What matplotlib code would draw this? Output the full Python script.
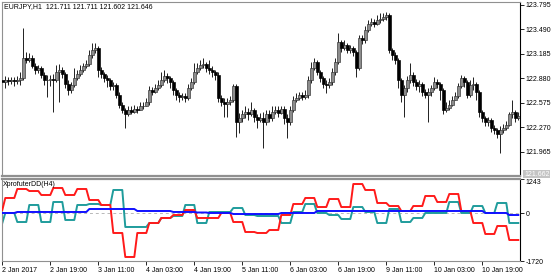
import numpy as np
import matplotlib
matplotlib.use('Agg')
import matplotlib.pyplot as plt

plt.rcParams['font.family'] = ['Liberation Sans', 'DejaVu Sans']
plt.rcParams['font.size'] = 5

# EURJPY H1 candles, 2 Jan 2017 00:00 onwards (open of each bar = previous close)
first_open = 122.86
closes = [122.84, 122.86, 122.85, 122.86, 122.85, 122.86, 122.89, 123.13, 123.11, 123.13,
          123.04, 122.99, 123.01, 122.92, 122.86, 122.86, 122.87, 122.86, 122.96, 122.99,
          122.94, 122.81, 122.74, 122.80, 122.89, 122.94, 122.99, 123.04, 123.06, 123.17,
          123.23, 123.26, 122.99, 122.94, 122.89, 122.86, 122.79, 122.80, 122.67, 122.55,
          122.49, 122.44, 122.49, 122.46, 122.50, 122.49, 122.53, 122.54, 122.58, 122.74,
          122.71, 122.76, 122.80, 122.86, 122.91, 122.89, 122.84, 122.74, 122.67, 122.65,
          122.66, 122.64, 122.76, 122.84, 122.96, 123.01, 123.05, 123.06, 123.01, 122.99,
          122.96, 122.92, 122.64, 122.58, 122.56, 122.59, 122.61, 122.79, 122.34, 122.39,
          122.43, 122.46, 122.44, 122.49, 122.40, 122.36, 122.39, 122.34, 122.43, 122.39,
          122.46, 122.49, 122.45, 122.50, 122.39, 122.34, 122.49, 122.61, 122.64, 122.67,
          122.65, 122.67, 122.86, 123.01, 123.08, 122.96, 122.89, 122.81, 122.80, 122.84,
          122.96, 123.08, 123.33, 123.26, 123.30, 123.23, 123.26, 123.21, 123.01, 123.38,
          123.36, 123.48, 123.56, 123.58, 123.56, 123.61, 123.62, 123.65, 123.67, 123.23,
          123.17, 123.11, 122.86, 122.67, 122.76, 122.86, 122.92, 122.84, 122.79, 122.81,
          122.71, 122.67, 122.71, 122.76, 122.84, 122.81, 122.74, 122.49, 122.51, 122.55,
          122.61, 122.66, 122.79, 122.89, 122.84, 122.67, 122.80, 122.81, 122.71, 122.46,
          122.39, 122.34, 122.36, 122.26, 122.24, 122.19, 122.24, 122.26, 122.30, 122.43,
          122.46, 122.39, 122.41]
highs = [123.02, 122.91, 122.90, 122.90, 122.90, 122.91, 122.96, 123.51, 123.21, 123.20,
         123.17, 123.07, 123.05, 123.04, 122.96, 122.92, 122.92, 122.94, 123.05, 123.06,
         123.02, 122.96, 122.86, 122.84, 123.01, 122.99, 123.05, 123.07, 123.11, 123.23,
         123.32, 123.32, 123.28, 123.02, 122.96, 122.92, 122.89, 122.84, 122.82, 122.71,
         122.58, 122.51, 122.53, 122.54, 122.55, 122.54, 122.58, 122.59, 122.64, 122.79,
         122.77, 122.81, 122.86, 122.96, 122.99, 122.95, 122.91, 122.86, 122.76, 122.71,
         122.70, 122.70, 122.81, 122.89, 123.07, 123.07, 123.11, 123.13, 123.08, 123.11,
         123.04, 122.99, 122.96, 122.67, 122.64, 122.64, 122.66, 122.81, 122.81, 122.45,
         122.49, 122.54, 122.51, 122.58, 122.51, 122.44, 122.45, 122.46, 122.49, 122.49,
         122.53, 122.53, 122.53, 122.54, 122.53, 122.43, 122.53, 122.66, 122.70, 122.71,
         122.71, 122.74, 122.91, 123.08, 123.13, 123.11, 122.99, 122.91, 122.86, 122.89,
         123.01, 123.13, 123.45, 123.36, 123.36, 123.32, 123.30, 123.28, 123.23, 123.42,
         123.42, 123.53, 123.61, 123.63, 123.62, 123.67, 123.70, 123.70, 123.71, 123.70,
         123.26, 123.21, 123.13, 122.89, 122.80, 122.91, 123.07, 122.96, 122.87, 122.86,
         122.84, 122.75, 122.76, 122.80, 122.90, 122.87, 122.84, 122.76, 122.58, 122.61,
         122.66, 122.71, 122.82, 122.92, 122.91, 122.86, 122.86, 122.90, 122.84, 122.74,
         122.49, 122.41, 122.40, 122.39, 122.30, 122.26, 122.28, 122.31, 122.35, 122.46,
         122.61, 122.49, 122.46]
lows = [122.61, 122.76, 122.80, 122.81, 122.79, 122.81, 122.80, 122.86, 123.07, 123.08,
        123.01, 122.94, 122.95, 122.89, 122.80, 122.65, 122.79, 122.46, 122.84, 122.58,
        122.89, 122.76, 122.67, 122.70, 122.77, 122.86, 122.91, 122.96, 123.01, 123.04,
        123.13, 123.20, 122.90, 122.89, 122.84, 122.77, 122.74, 122.74, 122.64, 122.51,
        122.45, 122.26, 122.41, 122.43, 122.45, 122.45, 122.48, 122.50, 122.53, 122.55,
        122.67, 122.70, 122.74, 122.77, 122.84, 122.82, 122.76, 122.67, 122.61, 122.59,
        122.61, 122.58, 122.61, 122.74, 122.81, 122.94, 122.99, 123.01, 122.96, 122.94,
        122.90, 122.86, 122.59, 122.53, 122.40, 122.40, 122.55, 122.59, 122.15, 122.20,
        122.34, 122.39, 122.36, 122.41, 122.34, 122.26, 122.33, 122.01, 122.30, 122.33,
        122.35, 122.43, 122.40, 122.43, 122.31, 122.14, 122.30, 122.46, 122.58, 122.61,
        122.61, 122.62, 122.64, 122.82, 122.99, 122.92, 122.84, 122.76, 122.70, 122.76,
        122.80, 122.92, 123.06, 123.21, 123.23, 123.20, 123.20, 123.16, 122.90, 122.99,
        123.31, 123.32, 123.46, 123.53, 123.52, 123.55, 123.57, 123.60, 123.61, 123.20,
        123.11, 123.06, 122.76, 122.59, 122.40, 122.71, 122.82, 122.79, 122.74, 122.71,
        122.66, 122.64, 122.33, 122.66, 122.74, 122.76, 122.61, 122.43, 122.46, 122.49,
        122.53, 122.61, 122.64, 122.76, 122.77, 122.64, 122.65, 122.74, 122.61, 122.40,
        122.33, 122.28, 122.29, 122.21, 122.18, 122.14, 121.95, 122.20, 122.24, 122.28,
        122.39, 122.34, 122.36]

# XprofuterDD(H4) buffers, one value per H4 bar
red_h4 = [123, 557, 882, 809, 665, 918, 665, 882, 484, 304, -708, -1575, -708, -347, -166,
          -58, 123, -166, -166, 15, -311, -672, -708, -600, -58, 340, 557, 231, 520, 231,
          1062, 846, 376, 267, 87, 267, 629, 412, 701, 87, -347, -744, -455, -961]
teal_h4 = [-347, 15, -311, 304, -311, 412, -238, 304, 340, 304, 846, -491, -491, -347, -166,
           -94, 304, -347, 51, 51, 195, -58, -94, -94, -347, 51, 340, 15, -58, -202,
           231, 51, -347, 159, -311, -166, 15, 15, 412, 15, 267, 15, 376, -347]
blue_h4 = [15, 15, 51, 51, 51, 51, 51, 51, 159, 159, 159, 159, 87, 87, 87,
           51, 51, 33, 15, 15, -22, -22, -22, -22, 15, 15, 15, 87, 87, 87,
           87, 87, 87, 87, 87, 87, 87, 87, 87, 87, 87, 15, 15, -58]

price_ticks = [123.795, 123.490, 123.185, 122.880, 122.575, 122.270, 121.965]
time_labels = ['2 Jan 2017', '2 Jan 19:00', '3 Jan 11:00', '4 Jan 03:00', '4 Jan 19:00',
               '5 Jan 11:00', '6 Jan 03:00', '6 Jan 19:00', '9 Jan 11:00', '10 Jan 03:00',
               '10 Jan 19:00']

n = len(closes)
x = np.arange(n)
c = np.array(closes)
o = np.array([first_open] + closes[:-1])
h = np.array(highs)
l = np.array(lows)
blk = (x + 3) // 4
red = np.array(red_h4)[blk]
teal = np.array(teal_h4)[blk]
blue = np.array(blue_h4)[blk]

W, H = 560, 280
fig = plt.figure(figsize=(W / 100, H / 100), dpi=100)
ax = fig.add_axes([2 / W, 1 - 176 / H, 518 / W, 174 / H])
ax2 = fig.add_axes([2 / W, 1 - 261 / H, 518 / W, 82 / H])

xmin, xmax = -0.1, 518 / 3 - 0.1

# candles
ax.vlines(x, l, h, color='#202020', lw=0.7, zorder=2)
up = c >= o
ax.bar(x[up], (c - o)[up], bottom=o[up], width=0.8, color='#8c8c8c',
       edgecolor='#303030', lw=0.45, zorder=3)
ax.bar(x[~up], (o - c)[~up], bottom=c[~up], width=0.8, color='black',
       edgecolor='black', lw=0.45, zorder=3)
ax.set_xlim(xmin, xmax)
ax.set_ylim(121.662, 123.832)
ax.set_xticks([])
ax.yaxis.tick_right()
ax.set_yticks(price_ticks, [f'{p:.3f}' for p in price_ticks])
ax.tick_params(axis='y', length=3, width=0.6, pad=1, labelsize=5)

# indicator window
ax2.axhline(0, color='#b8b8b8', lw=0.7, ls=(0, (3, 3)), zorder=1)
ax2.plot(x, red, color='#ff1a1a', lw=1.4, zorder=3)
ax2.plot(x, teal, color='#1f9c9c', lw=1.4, zorder=2)
ax2.plot(x, blue, color='#1010ff', lw=1.4, zorder=4)
ax2.set_xlim(xmin, xmax)
ax2.set_ylim(-1720, 1243)
ax2.yaxis.tick_right()
ax2.set_yticks([1243, 0, -1720], ['1243', '0', '-1720'])
ax2.tick_params(axis='y', length=3, width=0.6, pad=1, labelsize=5)
ax2.get_yticklabels()[0].set_va('top')
ax2.set_xticks(np.arange(len(time_labels)) * 16, time_labels)
ax2.tick_params(axis='x', length=3, width=0.6, pad=1, labelsize=5)
for t in ax2.get_xticklabels():
    t.set_ha('left')

for a in (ax, ax2):
    for s in ('left', 'top', 'bottom'):
        a.spines[s].set_color('#909090')
        a.spines[s].set_linewidth(0.8)
    a.spines['right'].set_color('black')
    a.spines['right'].set_linewidth(0.8)
ax.spines['bottom'].set_linewidth(1.6)
ax2.spines['top'].set_linewidth(1.6)

fig.text(4 / W, 1 - 7 / H, 'EURJPY,H1  121.711 121.711 121.602 121.646', fontsize=5,
         va='center', ha='left')
fig.text(3 / W, 1 - 185 / H, 'XprofuterDD(H4)', fontsize=5, va='center', ha='left')
fig.text(524 / W, 1 - 174 / H, '121.662', fontsize=5, va='center', ha='left', color='white',
         bbox=dict(boxstyle='square,pad=0.1', fc='#c4c4c4', ec='none'))

fig.savefig('out.png', dpi=100)
